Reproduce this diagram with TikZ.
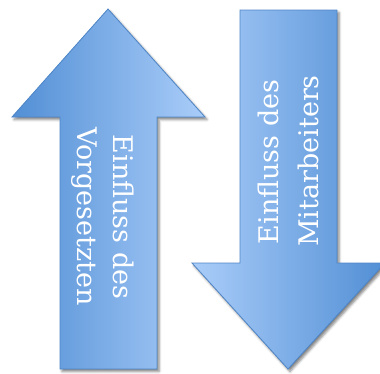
\documentclass[tikz,border=0pt]{standalone}
\usepackage{fontspec}
\setmainfont{DejaVu Serif}
\usetikzlibrary{shadows.blur}
\definecolor{arrowdark}{RGB}{82,143,213}
\definecolor{arrowlight}{RGB}{170,205,249}
\definecolor{arrowedge}{RGB}{78,133,198}
\tikzset{
  bigarrow/.style={draw=arrowedge, line width=0.8pt, line join=miter,
    blur shadow={shadow xshift=2pt, shadow yshift=-2.5pt,
                 shadow blur radius=2.5pt, shadow opacity=50}},
  upshade/.style={left color=arrowdark, right color=arrowlight},
  downshade/.style={left color=arrowlight, right color=arrowdark},
  arrowtext/.style={text=white, inner sep=0pt, anchor=base,
    font=\fontsize{27}{34}\selectfont}
}
\begin{document}
\begin{tikzpicture}[x=1pt, y=-1pt]
  \useasboundingbox (0,0) rectangle (380,373);

  % upward arrow
  \path[bigarrow, upshade] (108,9) -- (205,117) -- (157,117) -- (157,369)
    -- (60,369) -- (60,117) -- (12,117) -- cycle;
  % downward arrow
  \path[bigarrow, downshade] (240,10) -- (337,10) -- (337,263) -- (385,263)
    -- (288,369) -- (192,263) -- (240,263) -- cycle;

  % labels of the upward arrow, read top to bottom
  \node[arrowtext, rotate=-90] (upA) at (113,217) {Einfluss des};
  \node[arrowtext, rotate=-90] (upB) at (77,216.5) {Vorgesetzten};

  % labels of the downward arrow, read bottom to top
  \node[arrowtext, rotate=90] (downA) at (278,162) {Einfluss des};
  \node[arrowtext, rotate=90] (downB) at (318,161) {Mitarbeiters};
\end{tikzpicture}
\end{document}
